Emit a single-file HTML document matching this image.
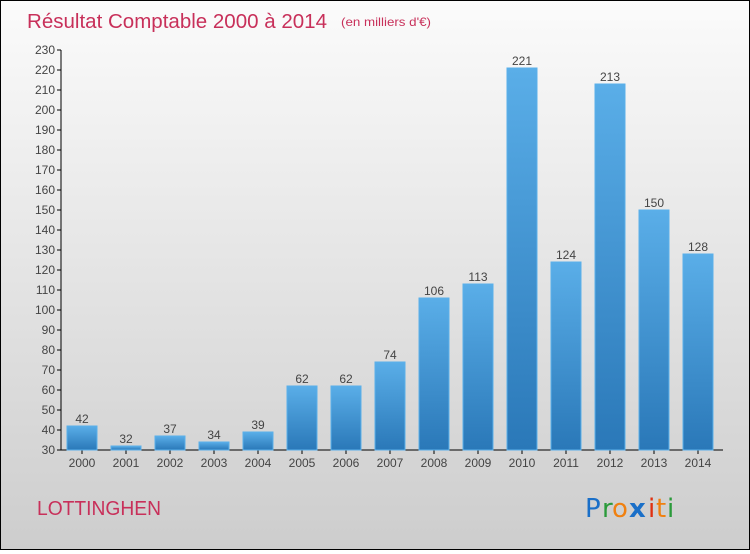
<!DOCTYPE html>
<html><head><meta charset="utf-8"><style>
html,body{margin:0;padding:0;}
body{width:750px;height:550px;overflow:hidden;font-family:"Liberation Sans",sans-serif;}
#wrap{position:relative;width:748px;height:548px;border:1px solid #000;background:linear-gradient(#fbfbfb,#cdcdcd);}
</style></head><body>
<div id="wrap">
<svg width="748" height="548" xmlns="http://www.w3.org/2000/svg" id="chart">
<defs><linearGradient id="bg" x1="0" y1="0" x2="0" y2="1"><stop offset="0" stop-color="#5aaee8"/><stop offset="1" stop-color="#2a78b8"/></linearGradient></defs>
<text x="26" y="27" font-size="20" fill="#c8305a" textLength="300" lengthAdjust="spacingAndGlyphs">Résultat Comptable 2000 à 2014</text>
<text x="340" y="25" font-size="12" fill="#c8305a" textLength="90" lengthAdjust="spacingAndGlyphs">(en milliers d'€)</text>
<text x="36" y="514" font-size="20" fill="#c8305a" textLength="124" lengthAdjust="spacingAndGlyphs">LOTTINGHEN</text>
<g font-size="26" font-family="'DejaVu Sans',sans-serif">
<text x="584" y="516" fill="#1a6fc8">P</text><text x="601" y="516" fill="#2a9a3a">r</text><text x="611" y="516" fill="#f08010">o</text><text x="628" y="516" fill="#1a6fc8" font-weight="bold">x</text><text x="647" y="516" fill="#e03010">i</text><text x="655" y="516" fill="#f08010">t</text><text x="666" y="516" fill="#2a9a3a">i</text></g>
<g id="axes"></g><g id="bars"></g>
</svg></div>
<script>
const years=["2000","2001","2002","2003","2004","2005","2006","2007","2008","2009","2010","2011","2012","2013","2014"];
const values=[42,32,37,34,39,62,62,74,106,113,221,124,213,150,128];
const yTicks=[30,40,50,60,70,80,90,100,110,120,130,140,150,160,170,180,190,200,210,220,230];
const NS="http://www.w3.org/2000/svg";
const y=v=>449-(v-30)*2;
const x=i=>81+i*44;
const ax=document.getElementById('axes'),bg=document.getElementById('bars');
function mk(t,a,p){const e=document.createElementNS(NS,t);for(const k in a)e.setAttribute(k,a[k]);p.appendChild(e);return e;}
let l=mk('line',{x1:60,y1:y(230),x2:60,y2:y(30),stroke:'#000'},ax);


l=mk('line',{x1:60,y1:y(30),x2:722,y2:y(30),stroke:'#000'},ax);


yTicks.forEach(v=>{
 mk('line',{x1:56,x2:60,y1:y(v),y2:y(v),stroke:'#000'},ax);
 const t=mk('text',{x:54,y:y(v)+4,'font-size':12,'text-anchor':'end',fill:'#444'},ax);t.textContent=v;
 
 
});
years.forEach((yr,i)=>{
 const v=values[i];
 const r=mk('rect',{x:x(i)-15,y:y(v),width:30,height:y(30)-y(v),fill:'url(#bg)',stroke:'#5ab0ea','stroke-width':1},bg);
 
 
 mk('line',{x1:x(i),x2:x(i),y1:y(30),y2:y(30)+4,stroke:'#000'},ax);
 const t=mk('text',{x:x(i),y:466,'font-size':12,'text-anchor':'middle',fill:'#444'},ax);t.textContent=yr;
 
 
 const vl=mk('text',{x:x(i),y:y(v)-3,'font-size':12,'text-anchor':'middle',fill:'#444'},bg);vl.textContent=v;
 
 
});
</script>
</body></html>
